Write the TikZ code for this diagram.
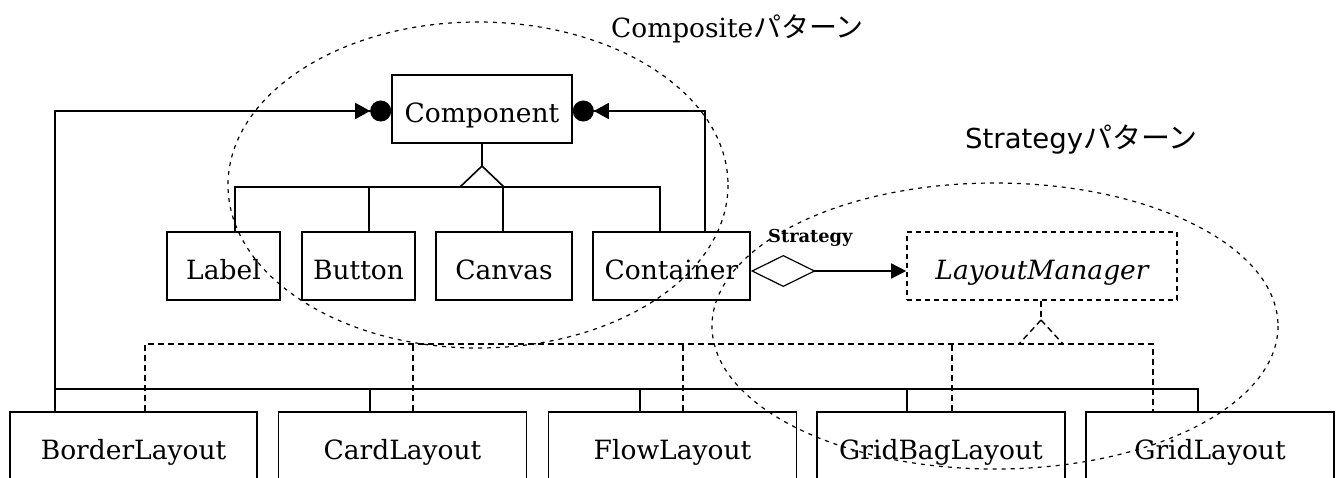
\documentclass[tikz,border=0pt]{standalone}
\usepackage{fontspec}
\setmainfont{DejaVu Serif}
\newfontfamily\jpfont{Noto Sans CJK JP}
\newfontfamily\gothic{DejaVu Sans}
\usetikzlibrary{arrows.meta}

\begin{document}
\begin{tikzpicture}[x=1pt,y=-1pt,
  lw/.style={line width=1.6pt},
  realize/.style={line width=1.4pt, dash pattern=on 6pt off 4pt},
  region/.style={line width=1.2pt, dash pattern=on 4pt off 5pt},
  box/.style={draw, line width=1.6pt, inner sep=0pt,
    font=\fontsize{26.5}{30}\selectfont, text height=27pt, text depth=0pt,
    minimum height=68pt},
  bottombox/.style={box, minimum width=248pt},
  ballend/.style={-{Triangle[length=15pt,width=16pt]Circle[length=21pt]}}
]
\useasboundingbox (0,0) rectangle (1343,477);
\clip (0,0) rectangle (1343,477);

% Composite part
\node[box, minimum width=180pt] (comp) at (482,109) {Component};
\node[box, minimum width=113pt] (label) at (223.5,266) {Label};
\node[box, minimum width=113pt] (button) at (358.5,266) {Button};
\node[box, minimum width=136pt] (canvas) at (504,266) {Canvas};
\node[box, minimum width=157pt] (container) at (671.5,266) {Container};

% Strategy part
\node[box, dash pattern=on 5pt off 4pt, minimum width=270pt,
      font=\itshape\fontsize{26.5}{30}\selectfont] (lm) at (1042,266) {LayoutManager};

% Layout classes
\node[bottombox, minimum width=247pt] (border) at (133.5,446) {BorderLayout};
\node[bottombox] (card) at (402.5,446) {CardLayout};
\node[bottombox] (flow) at (672.5,446) {FlowLayout};
\node[bottombox] (gridbag) at (941,446) {GridBagLayout};
\node[bottombox] (grid) at (1210,446) {GridLayout};

% Generalization of Component
\coordinate (capex) at (482,166);
\coordinate (cbase) at (482,187);
\draw[lw] (comp.south) -- (capex);
\draw[lw] (capex) -- ++(-22,21) (capex) -- ++(22,21);
\draw[lw] ([xshift=11.5pt]label.north) |- ([xshift=-11.5pt]container.north |- cbase)
  -- ([xshift=-11.5pt]container.north);
\draw[lw] ([xshift=10.5pt]button.north) -- ++(0,-45);
\draw[lw] ([xshift=-1pt]canvas.north) -- ++(0,-45);

% Aggregation links back to Component
\draw[lw, ballend] ([xshift=-78.5pt]border.north) |- ([yshift=-2pt]comp.west);
\draw[lw, ballend] ([xshift=33.5pt]container.north) |- ([yshift=-2pt]comp.east);

% Layout classes hang on the container bus
\coordinate (bus) at (55,389);
\draw[lw] (bus) -| ([xshift=-12pt]grid.north);
\draw[lw] ([xshift=-32.5pt]card.north) -- ++(0,-23);
\draw[lw] ([xshift=-32.5pt]flow.north) -- ++(0,-23);
\draw[lw] ([xshift=-34pt]gridbag.north) -- ++(0,-23);

% Strategy association
\draw[lw, {Diamond[open,length=65pt,width=32pt,line width=1.2pt]}-{Triangle[length=15pt,width=15pt]}]
  ([yshift=-5pt]container.east) -- ([yshift=-5pt]lm.west);
\node[anchor=base west, inner sep=0pt, font=\bfseries\fontsize{17.8}{20}\selectfont]
  (stratlabel) at (768,242) {Strategy};

% Realization of LayoutManager
\coordinate (lapex) at (1041,320);
\coordinate (lbase) at (1041,344);
\draw[realize] (lm.south -| lapex) -- (lapex);
\draw[realize] (lapex) -- ++(-22,24) (lapex) -- ++(22,24);
\draw[realize] ([xshift=11.5pt]border.north) |- ([xshift=-57pt]grid.north |- lbase)
  -- ([xshift=-57pt]grid.north);
\draw[realize] ([xshift=10.5pt]card.north) -- ++(0,-68);
\draw[realize] ([xshift=10.5pt]flow.north) -- ++(0,-68);
\draw[realize] ([xshift=11pt]gridbag.north) -- ++(0,-68);

% Pattern regions
\draw[region] (478,185) ellipse [x radius=250, y radius=163];
\draw[region] (995,326) ellipse [x radius=283, y radius=143];

\node[anchor=base west, inner sep=0pt, font=\fontsize{26.4}{30}\selectfont]
  (comptitle) at (611,37) {Composite{\jpfont\fontsize{28}{30}\selectfont パターン}};
\node[anchor=base west, inner sep=0pt, font=\gothic\fontsize{27.5}{30}\selectfont]
  (strattitle) at (965,148) {Strategy{\jpfont\fontsize{29}{30}\selectfont パターン}};
\end{tikzpicture}
\end{document}
